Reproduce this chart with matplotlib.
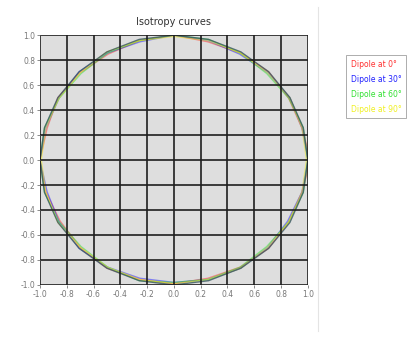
import numpy as np
import matplotlib.pyplot as plt
from matplotlib.lines import Line2D

# vertex angles (degrees) and radii, one list per dipole
angles = [0, 15, 30, 45, 60, 75, 90, 105, 120, 135, 150, 165,
          180, 195, 210, 225, 240, 255, 270, 285, 300, 315, 330, 345, 360]
r_dip0 = [1.02, 0.99, 0.99, 1.00, 0.99, 0.98, 1.00, 0.99, 0.98, 0.99, 1.00, 0.98,
          1.00, 0.99, 0.98, 0.99, 1.00, 0.99, 0.99, 0.98, 0.99, 1.00, 0.99, 0.99, 1.02]
r_dip30 = [1.00, 0.99, 1.00, 0.99, 0.98, 0.99, 1.00, 0.98, 0.99, 1.00, 0.99, 0.99,
           1.00, 0.98, 0.99, 1.00, 0.99, 0.98, 0.98, 0.99, 1.00, 0.99, 0.98, 0.99, 1.00]
r_dip60 = [1.00, 1.00, 0.99, 0.98, 0.99, 1.00, 1.00, 0.99, 0.99, 0.98, 0.99, 1.00,
           1.00, 1.00, 0.99, 0.98, 0.99, 1.00, 0.98, 0.99, 0.99, 0.98, 0.99, 1.00, 1.00]
r_dip90 = [0.99, 0.99, 1.00, 0.99, 0.99, 0.99, 0.99, 0.99, 1.00, 0.99, 0.99, 0.99,
           0.99, 0.99, 1.00, 0.99, 0.99, 0.99, 0.99, 0.99, 1.00, 0.99, 0.99, 0.99, 0.99]
labels = ["Dipole at 0\u00b0", "Dipole at 30\u00b0", "Dipole at 60\u00b0", "Dipole at 90\u00b0"]
colors = ["#ff3030", "#2020ff", "#30e030", "#f0f020"]
ticks = [-1.0, -0.8, -0.6, -0.4, -0.2, 0.0, 0.2, 0.4, 0.6, 0.8, 1.0]

fig = plt.figure(figsize=(4.16, 3.38), dpi=100)
ax = fig.add_axes([0.096, 0.157, 0.644, 0.739])
ax.set_facecolor("#dedede")

th = np.radians(angles)
handles = []
for r, c, lab in zip([r_dip0, r_dip30, r_dip60, r_dip90], colors, labels):
    r = np.array(r)
    h, = ax.plot(r * np.cos(th), r * np.sin(th), color=c, lw=1.0, alpha=0.5, label=lab)
    handles.append(h)
# dark overlap of all curves
ax.plot(np.cos(th), np.sin(th), color="#35555c", lw=1.0, alpha=0.8)

ax.set_xlim(-1.0, 1.0)
ax.set_ylim(-1.0, 1.0)
ax.set_xticks(ticks)
ax.set_yticks(ticks)
ax.set_xticklabels([f"{t:.1f}" for t in ticks])
ax.set_yticklabels([f"{t:.1f}" for t in ticks])
ax.tick_params(labelsize=5.5, colors="#777777", length=2, width=0.6, pad=1.5)
ax.grid(True, color="#1e1e1e", lw=1.2)
ax.set_axisbelow(False)
for s in ax.spines.values():
    s.set_visible(False)
ax.set_title("Isotropy curves", fontsize=7, color="#333333", pad=7)

leg = fig.legend(handles=handles, loc="upper left", bbox_to_anchor=(346 / 416, 1 - 55 / 338),
                 fontsize=5.5, handlelength=0, handletextpad=0, frameon=True, fancybox=False,
                 edgecolor="#888888", borderpad=0.6, labelspacing=0.8, borderaxespad=0)
leg.get_frame().set_linewidth(0.6)
for txt, c in zip(leg.get_texts(), colors):
    txt.set_color(c)
for lh in leg.legend_handles:
    lh.set_visible(False)

fig.add_artist(Line2D([318 / 416, 318 / 416], [0.02, 0.98], color="#e4e4e4", lw=0.8))

fig.savefig("out.png", dpi=100)
